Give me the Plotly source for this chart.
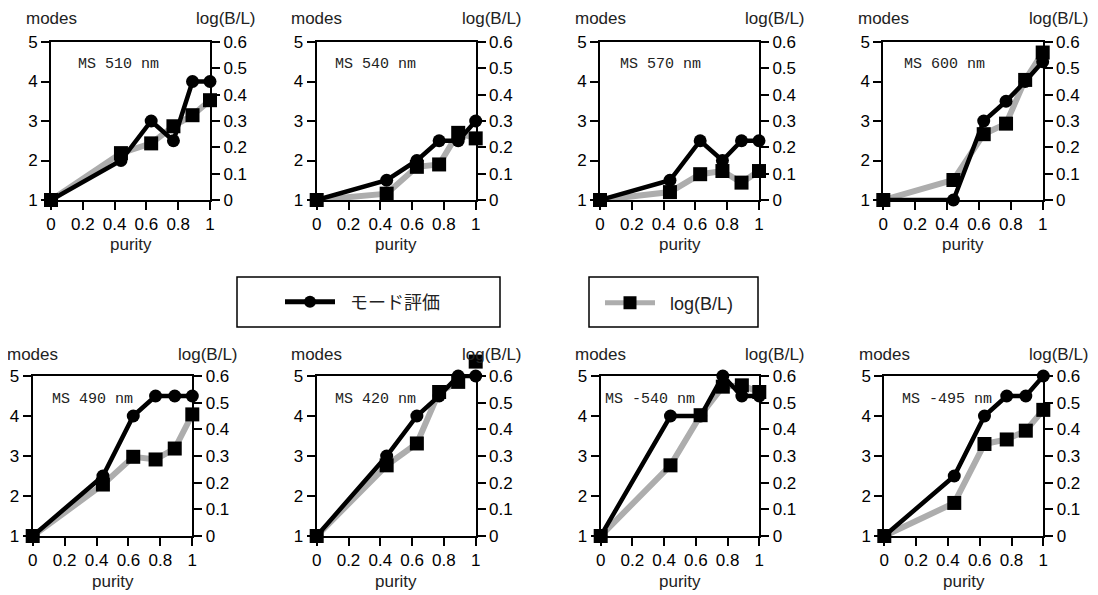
import plotly.graph_objects as go

# ---------------- data ----------------
purity = [0, 0.44, 0.63, 0.77, 0.89, 1.0]

panel_labels = ["MS 510 nm", "MS 540 nm", "MS 570 nm", "MS 600 nm",
                "MS 490 nm", "MS 420 nm", "MS -540 nm", "MS -495 nm"]

modes_510 = [1, 2, 3, 2.5, 4, 4]
modes_540 = [1, 1.5, 2, 2.5, 2.5, 3]
modes_570 = [1, 1.5, 2.5, 2, 2.5, 2.5]
modes_600 = [1, 1, 3, 3.5, 4, 4.5]
modes_490 = [1, 2.5, 4, 4.5, 4.5, 4.5]
modes_420 = [1, 3, 4, 4.5, 5, 5]
modes_m540 = [1, 4, 4, 5, 4.5, 4.5]
modes_m495 = [1, 2.5, 4, 4.5, 4.5, 5]

log_510 = [0, 0.178, 0.215, 0.28, 0.322, 0.379]
log_540 = [0, 0.024, 0.126, 0.135, 0.255, 0.234]
log_570 = [0, 0.03, 0.098, 0.11, 0.066, 0.11]
log_600 = [0, 0.076, 0.25, 0.29, 0.456, 0.56]
log_490 = [0, 0.193, 0.297, 0.287, 0.328, 0.456]
log_420 = [0, 0.265, 0.347, 0.54, 0.578, 0.654]
log_m540 = [0, 0.265, 0.453, 0.56, 0.565, 0.54]
log_m495 = [0, 0.124, 0.345, 0.362, 0.395, 0.473]

modes_series = [modes_510, modes_540, modes_570, modes_600,
                modes_490, modes_420, modes_m540, modes_m495]
log_series = [log_510, log_540, log_570, log_600,
              log_490, log_420, log_m540, log_m495]

modes_ticks = [1, 2, 3, 4, 5]
log_ticks = [0, 0.1, 0.2, 0.3, 0.4, 0.5, 0.6]
purity_ticks = [0, 0.2, 0.4, 0.6, 0.8, 1]

# ---------------- layout / style ----------------
W, H = 1098, 595
OFF = 8  # page body margin
EXT = 30  # extra headroom (px) for marker axis so points above the frame stay visible
GREY = "#adadad"
FONT = "Liberation Sans, Arial, Helvetica, sans-serif"
MONO = "Liberation Mono, Courier New, monospace"
NB = "\u00a0"

# plot-area pixel boxes on screen: left, right, top, bottom
boxes = [(51, 210, 42, 200), (316.7, 475.7, 42, 200), (600, 759, 42, 200), (883.3, 1042.7, 42, 200),
         (32.7, 192.3, 376, 536), (316.7, 475.7, 376, 536), (600.7, 759.3, 376, 536), (884.3, 1043.3, 376, 536)]
label_dx = [25, 16.7, 18, 18.5, 17, 16, 2, 16]


def px(x):
    return (x - OFF) / W


def py(y):
    return 1 - (y - OFF) / H


def yid(n):
    return "y" if n == 1 else f"y{n}"


def ykey(n):
    return "yaxis" if n == 1 else f"yaxis{n}"


fig = go.Figure()
layout = dict(
    template="none",
    width=W, height=H, autosize=False,
    margin=dict(l=0, r=0, t=0, b=0, pad=0, autoexpand=False),
    paper_bgcolor="white", plot_bgcolor="rgba(0,0,0,0)",
    font=dict(family=FONT, size=16, color="black"),
    showlegend=True,
)
annotations = []
shapes = []

axis_common = dict(showline=True, linecolor="black", linewidth=2, ticks="outside",
                   ticklen=8, tickwidth=1.5, tickcolor="black", showgrid=False,
                   zeroline=False, automargin=False,
                   tickfont=dict(size=17, color="black", family=FONT))

for i, (l, r, t, b) in enumerate(boxes):
    xn = i + 1
    xid = "x" if xn == 1 else f"x{xn}"
    xkey = "xaxis" if xn == 1 else f"xaxis{xn}"
    yb, ym, ys = 3 * i + 1, 3 * i + 2, 3 * i + 3

    layout[xkey] = dict(domain=[px(l), px(r)], anchor=yid(yb), range=[0, 1],
                        tickvals=purity_ticks, mirror=True, **axis_common)
    layout[ykey(yb)] = dict(domain=[py(b), py(t)], anchor=xid, side="right", range=[0, 0.6],
                            tickvals=log_ticks, **axis_common)
    layout[ykey(ym)] = dict(overlaying=yid(yb), anchor=xid, side="left", range=[1, 5],
                            tickvals=modes_ticks, **axis_common)
    # hidden copy of the log axis (same scale) with extra headroom, for the square markers
    layout[ykey(ys)] = dict(domain=[py(b), py(t - EXT)], anchor=xid, side="right",
                            range=[0, 0.6 * (b - t + EXT) / (b - t)],
                            visible=False, automargin=False, showgrid=False, zeroline=False)

    fig.add_trace(go.Scatter(x=purity, y=log_series[i], xaxis=xid, yaxis=yid(yb),
                             mode="lines", line=dict(color=GREY, width=6),
                             showlegend=False, cliponaxis=False, hoverinfo="skip"))
    fig.add_trace(go.Scatter(x=purity, y=modes_series[i], xaxis=xid, yaxis=yid(ym),
                             mode="lines+markers", line=dict(color="black", width=4.5),
                             marker=dict(symbol="circle", size=13, color="black"),
                             showlegend=False, cliponaxis=False, name="モード評価"))
    fig.add_trace(go.Scatter(x=purity, y=log_series[i], xaxis=xid, yaxis=yid(ys),
                             mode="markers",
                             marker=dict(symbol="square", size=14, color="black"),
                             showlegend=False, cliponaxis=False, name="log(B/L)"))

    ty = 18 if t < 100 else 354
    annotations.append(dict(text="modes", x=px(l), y=py(ty), xref="paper", yref="paper",
                            xanchor="center", yanchor="middle", showarrow=False,
                            font=dict(size=17, color="#222", family=FONT)))
    annotations.append(dict(text="log(B/L)", x=px(r + 16), y=py(ty), xref="paper", yref="paper",
                            xanchor="center", yanchor="middle", showarrow=False,
                            font=dict(size=17, color="#222", family=FONT)))
    annotations.append(dict(text="purity", x=px((l + r) / 2), y=py(b + 45), xref="paper", yref="paper",
                            xanchor="center", yanchor="middle", showarrow=False,
                            font=dict(size=17, color="#222", family=FONT)))
    annotations.append(dict(text=panel_labels[i], x=px(l + label_dx[i]), y=py(t + 23),
                            xref="paper", yref="paper", xanchor="left", yanchor="middle",
                            showarrow=False, font=dict(size=15, color="#222", family=MONO)))

# legend entries
fig.add_trace(go.Scatter(x=[None], y=[None], mode="lines+markers", name=NB + NB + "モード評価",
                         line=dict(color="black", width=5),
                         marker=dict(symbol="circle", size=12, color="black"),
                         legend="legend", showlegend=True, hoverinfo="skip"))
fig.add_trace(go.Scatter(x=[None], y=[None], mode="lines+markers", name=NB + NB + "log(B/L)",
                         line=dict(color=GREY, width=5),
                         marker=dict(symbol="square", size=13, color="black"),
                         legend="legend2", showlegend=True, hoverinfo="skip"))

leg_font = dict(size=18, color="#222", family="Liberation Sans, Noto Sans CJK JP, sans-serif")
layout["legend"] = dict(x=px(280), y=py(302), xanchor="left", yanchor="middle",
                        bgcolor="rgba(0,0,0,0)", borderwidth=0, font=leg_font, itemwidth=50)
layout["legend2"] = dict(x=px(600), y=py(303), xanchor="left", yanchor="middle",
                         bgcolor="rgba(0,0,0,0)", borderwidth=0, font=leg_font, itemwidth=50)

shapes.append(dict(type="rect", xref="paper", yref="paper", x0=px(237), x1=px(500),
                   y0=py(327), y1=py(277), line=dict(color="black", width=1.5)))
shapes.append(dict(type="rect", xref="paper", yref="paper", x0=px(589), x1=px(758),
                   y0=py(327), y1=py(277), line=dict(color="black", width=1.5)))

layout["annotations"] = annotations
layout["shapes"] = shapes
fig.update_layout(**layout)
fig.write_html("out.html")
